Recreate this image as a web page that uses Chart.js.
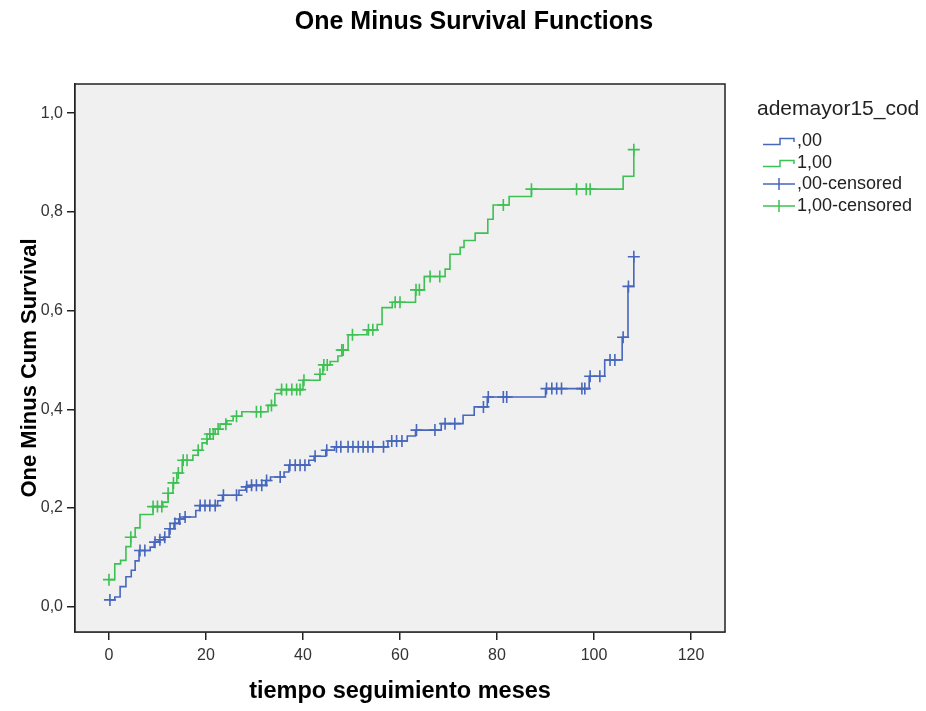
<!DOCTYPE html>
<html>
<head>
<meta charset="utf-8">
<script src="https://cdn.jsdelivr.net/npm/chart.js@4.4.1/dist/chart.umd.min.js"></script>
<style>
  body { margin: 0; background: #fff; }
  #wrap { position: relative; width: 926px; height: 711px; }
  #legend { position: absolute; left: 757px; top: 94px; font-family: "Liberation Sans", Arial, sans-serif; color: #222; }
  #legend .ttl { font-size: 21px; height: 28px; line-height: 28px; margin-bottom: 8px; white-space: nowrap; }
  #legend .item { height: 21.5px; line-height: 21.5px; font-size: 18px; white-space: nowrap; }
  #legend svg { vertical-align: middle; margin-left: 5px; margin-right: 1px; }
</style>
</head>
<body>
<div id="wrap">
  <canvas id="chart" width="926" height="711"></canvas>
  <div id="legend"></div>
</div>
<script>
// legend / group names
const legendTitle = "ademayor15_cod";
const groups = [",00", "1,00"];
const blue = "#4767bd";
const green = "#3cc152";

// axis ticks
const xTicks = [0, 20, 40, 60, 80, 100, 120];
const yTicks = [0, 0.2, 0.4, 0.6, 0.8, 1.0];

// group ,00 : event times (months) and one minus cum survival after each step
const blueT = [0, 1.2, 2.3, 3.5, 4.6, 5.4, 6.2, 8.5, 9.3, 10.3, 11.3, 12.4, 13.4, 14.4, 15.5, 17.9, 18.7,
  22.4, 23.4, 26.8, 28.2, 29.2, 32.3, 33.3, 36.1, 37.1, 41.2, 42.3, 44.7, 46.5, 57.5, 61.5, 63.2,
  68.5, 73.0, 75.3, 78.0, 90.0, 99.0, 102.2, 105.8, 107.0, 108.2];
const blueV = [0.014, 0.020, 0.041, 0.061, 0.074, 0.093, 0.114, 0.121, 0.131, 0.136, 0.141, 0.158, 0.169, 0.178, 0.182, 0.195, 0.205,
  0.215, 0.226, 0.236, 0.243, 0.246, 0.256, 0.263, 0.273, 0.287, 0.297, 0.305, 0.317, 0.324, 0.336, 0.346, 0.358,
  0.371, 0.388, 0.405, 0.425, 0.442, 0.467, 0.500, 0.546, 0.649, 0.709];
// group ,00 : censored times
const blueCens = [0.2, 6.4, 7.4, 9.5, 10.5, 11.5, 12.6, 13.6, 14.6, 15.7, 18.8, 19.8, 20.8, 21.9, 23.6, 26.3,
  28.4, 29.4, 30.4, 31.5, 32.5, 35.3, 37.3, 38.4, 39.4, 40.4, 42.5, 44.9, 46.9, 47.8, 49.3, 50.3, 51.4,
  52.4, 53.4, 54.4, 56.6, 58.3, 59.3, 60.4, 63.4, 67.2, 69.3, 71.3, 77.2, 78.2, 81.3, 82.0, 90.2, 91.3,
  92.3, 93.3, 97.5, 98.1, 99.2, 101.2, 103.3, 104.3, 106.0, 107.1, 108.2];

// group 1,00
const greenT = [0, 1.2, 2.4, 3.5, 4.5, 5.4, 6.4, 9.1, 11.1, 12.2, 13.2, 14.0, 15.1, 17.3, 18.4, 19.2, 20.2,
  20.8, 21.9, 22.9, 24.3, 25.6, 27.4, 32.8, 34.2, 35.5, 40.0, 43.5, 44.1, 45.6, 47.2, 48.0, 49.3, 53.2,
  55.3, 56.3, 58.4, 63.2, 65.0, 69.3, 70.3, 72.4, 73.2, 75.5, 78.1, 79.2, 82.5, 87.1, 106.0, 108.2];
const greenV = [0.055, 0.087, 0.094, 0.122, 0.141, 0.160, 0.187, 0.203, 0.212, 0.230, 0.251, 0.271, 0.297, 0.307, 0.317, 0.332, 0.340,
  0.350, 0.360, 0.370, 0.377, 0.386, 0.395, 0.408, 0.432, 0.440, 0.459, 0.471, 0.490, 0.497, 0.508, 0.520, 0.551, 0.561,
  0.572, 0.606, 0.617, 0.642, 0.669, 0.684, 0.714, 0.728, 0.742, 0.757, 0.785, 0.814, 0.831, 0.846, 0.872, 0.926];
const greenCens = [0, 4.5, 9.1, 10.0, 10.9, 12.2, 13.3, 14.3, 15.3, 16.1, 18.4, 20.2, 20.8, 21.5, 22.5, 24.1,
  26.3, 30.4, 31.3, 33.5, 35.6, 36.6, 37.7, 38.7, 39.4, 40.2, 43.5, 44.3, 45.0, 48.0, 48.3, 50.2, 53.5,
  54.4, 59.0, 60.0, 63.3, 64.0, 66.2, 68.2, 81.3, 87.1, 96.4, 98.4, 99.2, 108.2];

const font = "'Liberation Sans', Arial, sans-serif";

function steps(ts, vs) {
  return ts.map((t, i) => ({ x: t, y: vs[i] }));
}

// level of the step curve at time t
function levelAt(ts, vs, t) {
  let v = vs[0];
  for (let i = 0; i < ts.length; i++) {
    if (ts[i] <= t + 1e-9) v = vs[i];
  }
  return v;
}

function censored(cens, ts, vs) {
  return cens.map(t => ({ x: t, y: levelAt(ts, vs, t) }));
}

const framePlugin = {
  id: "frame",
  beforeDatasetsDraw(chart) {
    const { ctx, chartArea: a } = chart;
    ctx.save();
    ctx.fillStyle = "#f0f0f0";
    ctx.fillRect(a.left, a.top, a.right - a.left, a.bottom - a.top);
    ctx.restore();
  },
  afterDraw(chart) {
    const { ctx, chartArea: a } = chart;
    ctx.save();
    ctx.strokeStyle = "#222";
    ctx.lineWidth = 1.5;
    ctx.strokeRect(a.left, a.top, a.right - a.left, a.bottom - a.top);

    ctx.fillStyle = "#000";
    ctx.textAlign = "center";
    ctx.textBaseline = "middle";
    ctx.font = "bold 25px " + font;
    ctx.fillText("One Minus Survival Functions", 474, 22);

    ctx.translate(30, 368);
    ctx.rotate(-Math.PI / 2);
    ctx.font = "bold 22px " + font;
    ctx.fillText("One Minus Cum Survival", 0, 0);
    ctx.restore();
  }
};

const ctx = document.getElementById("chart").getContext("2d");

const myChart = new Chart(ctx, {
  type: "line",
  data: {
    datasets: [
      {
        label: groups[0],
        data: steps(blueT, blueV),
        stepped: "before",
        borderColor: blue,
        borderWidth: 1.6,
        pointRadius: 0,
        fill: false
      },
      {
        label: groups[1],
        data: steps(greenT, greenV),
        stepped: "before",
        borderColor: green,
        borderWidth: 1.6,
        pointRadius: 0,
        fill: false
      },
      {
        label: groups[0] + "-censored",
        data: censored(blueCens, blueT, blueV),
        showLine: false,
        pointStyle: "cross",
        pointRadius: 6,
        pointBorderWidth: 1.6,
        borderColor: blue,
        backgroundColor: blue
      },
      {
        label: groups[1] + "-censored",
        data: censored(greenCens, greenT, greenV),
        showLine: false,
        pointStyle: "cross",
        pointRadius: 6,
        pointBorderWidth: 1.6,
        borderColor: green,
        backgroundColor: green
      }
    ]
  },
  options: {
    responsive: false,
    animation: false,
    layout: { padding: { left: 0, right: 201, top: 84, bottom: 0 } },
    plugins: {
      legend: { display: false },
      tooltip: { enabled: false }
    },
    scales: {
      x: {
        type: "linear",
        min: -7,
        max: 127,
        afterBuildTicks: scale => { scale.ticks = xTicks.map(v => ({ value: v })); },
        afterFit: scale => { scale.height = 79; },
        grid: { drawOnChartArea: false, drawTicks: true, tickLength: 8, color: "#222", lineWidth: 1.5 },
        border: { display: true, color: "#222", width: 1.5 },
        ticks: { color: "#333", font: { family: font, size: 16 }, padding: 6, maxRotation: 0 },
        title: {
          display: true,
          text: "tiempo seguimiento meses",
          color: "#000",
          font: { family: font, size: 23.5, weight: "bold" },
          padding: { top: 0, bottom: 5 }
        }
      },
      y: {
        type: "linear",
        min: -0.051,
        max: 1.059,
        afterBuildTicks: scale => { scale.ticks = yTicks.map(v => ({ value: v })); },
        afterFit: scale => { scale.width = 75; },
        grid: { drawOnChartArea: false, drawTicks: true, tickLength: 8, color: "#222", lineWidth: 1.5 },
        border: { display: true, color: "#222", width: 1.5 },
        ticks: {
          color: "#333",
          font: { family: font, size: 16 },
          padding: 4,
          callback: v => v.toFixed(1).replace(".", ",")
        }
      }
    }
  },
  plugins: [framePlugin]
});

// legend
function stepIcon(color) {
  return `<svg width="34" height="12"><path d="M1 9.5 H18 V3.5 H32 V7" fill="none" stroke="${color}" stroke-width="1.5"/></svg>`;
}
function crossIcon(color) {
  return `<svg width="34" height="14"><path d="M1 7 H33 M17 1 V13" fill="none" stroke="${color}" stroke-width="1.5"/></svg>`;
}
const legend = document.getElementById("legend");
let html = `<div class="ttl">${legendTitle}</div>`;
html += `<div class="item">${stepIcon(blue)}${groups[0]}</div>`;
html += `<div class="item">${stepIcon(green)}${groups[1]}</div>`;
html += `<div class="item">${crossIcon(blue)}${groups[0]}-censored</div>`;
html += `<div class="item">${crossIcon(green)}${groups[1]}-censored</div>`;
legend.innerHTML = html;
</script>
</body>
</html>
